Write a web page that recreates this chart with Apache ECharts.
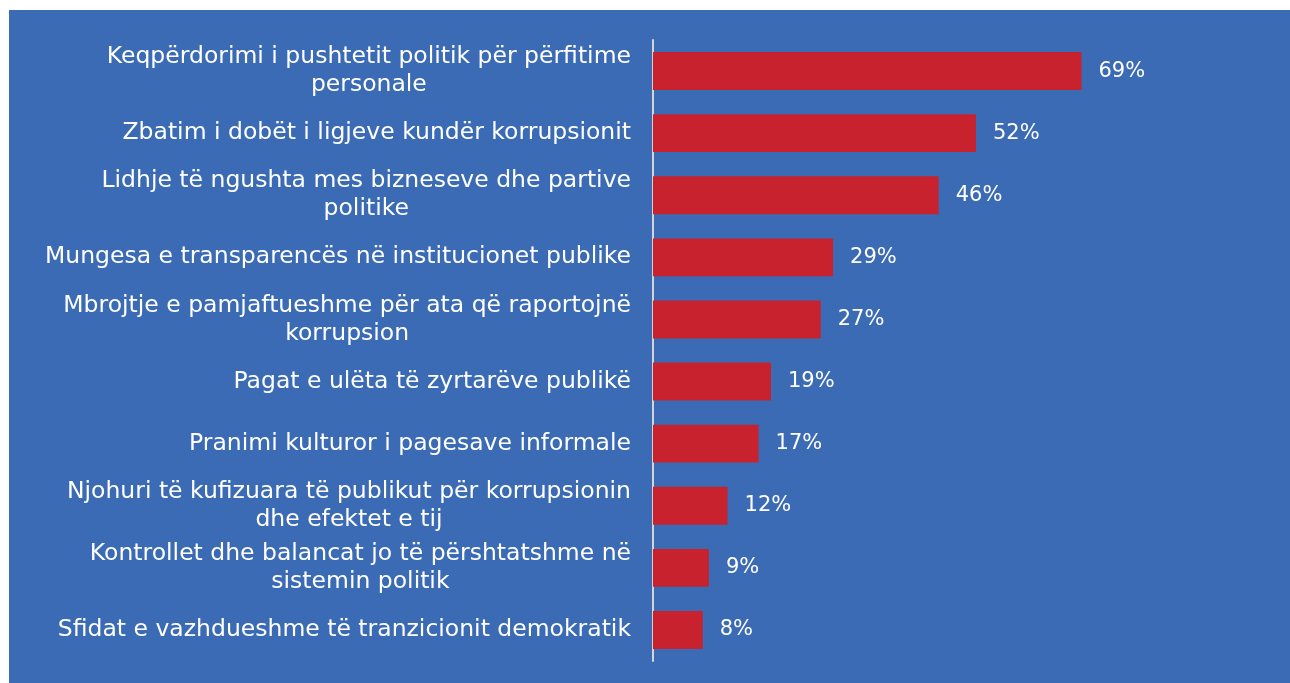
<!DOCTYPE html>
<html>
<head>
<meta charset="utf-8">
<script src="https://cdn.jsdelivr.net/npm/echarts@6/dist/echarts.min.js"></script>
<style>
html,body{margin:0;padding:0;background:#ffffff;}
#c{position:absolute;left:9px;top:10px;width:1281px;height:673px;background:#3a6bb4;}
</style>
</head>
<body>
<div id="c"></div>
<script>
const categories = [
  "Keqpërdorimi i pushtetit politik për përfitime\npersonale",
  "Zbatim i dobët i ligjeve kundër korrupsionit",
  "Lidhje të ngushta mes bizneseve dhe partive\npolitike",
  "Mungesa e transparencës në institucionet publike",
  "Mbrojtje e pamjaftueshme për ata që raportojnë\nkorrupsion",
  "Pagat e ulëta të zyrtarëve publikë",
  "Pranimi kulturor i pagesave informale",
  "Njohuri të kufizuara të publikut për korrupsionin\ndhe efektet e tij",
  "Kontrollet dhe balancat jo të përshtatshme në\nsistemin politik",
  "Sfidat e vazhdueshme të tranzicionit demokratik"
];
const values = [69, 52, 46, 29, 27, 19, 17, 12, 9, 8];

const FONT = "DejaVu Sans";
const chart = echarts.init(document.getElementById('c'), null, {renderer: 'canvas'});
chart.setOption({
  backgroundColor: '#3a6bb4',
  animation: false,
  grid: {left: 644, right: 16, top: 30, bottom: 22, containLabel: false},
  xAxis: {type: 'value', min: 0, max: 100, show: false},
  yAxis: {
    type: 'category',
    data: categories,
    inverse: true,
    axisLine: {show: true, lineStyle: {color: '#d4d4d4', width: 2}},
    axisTick: {show: false},
    splitLine: {show: false},
    axisLabel: {
      margin: 22,
      formatter: function (v) { return '{c|' + v + '}'; },
      rich: {
        c: {align: 'center', color: '#ffffff', fontFamily: FONT, fontSize: 23.5, lineHeight: 28}
      }
    }
  },
  series: [{
    type: 'bar',
    data: values,
    barCategoryGap: '39%',
    itemStyle: {color: '#c8222f'},
    label: {
      show: true,
      position: 'right',
      distance: 17,
      formatter: '{c}%',
      color: '#ffffff',
      fontFamily: FONT,
      fontSize: 21
    }
  }]
});
</script>
</body>
</html>
